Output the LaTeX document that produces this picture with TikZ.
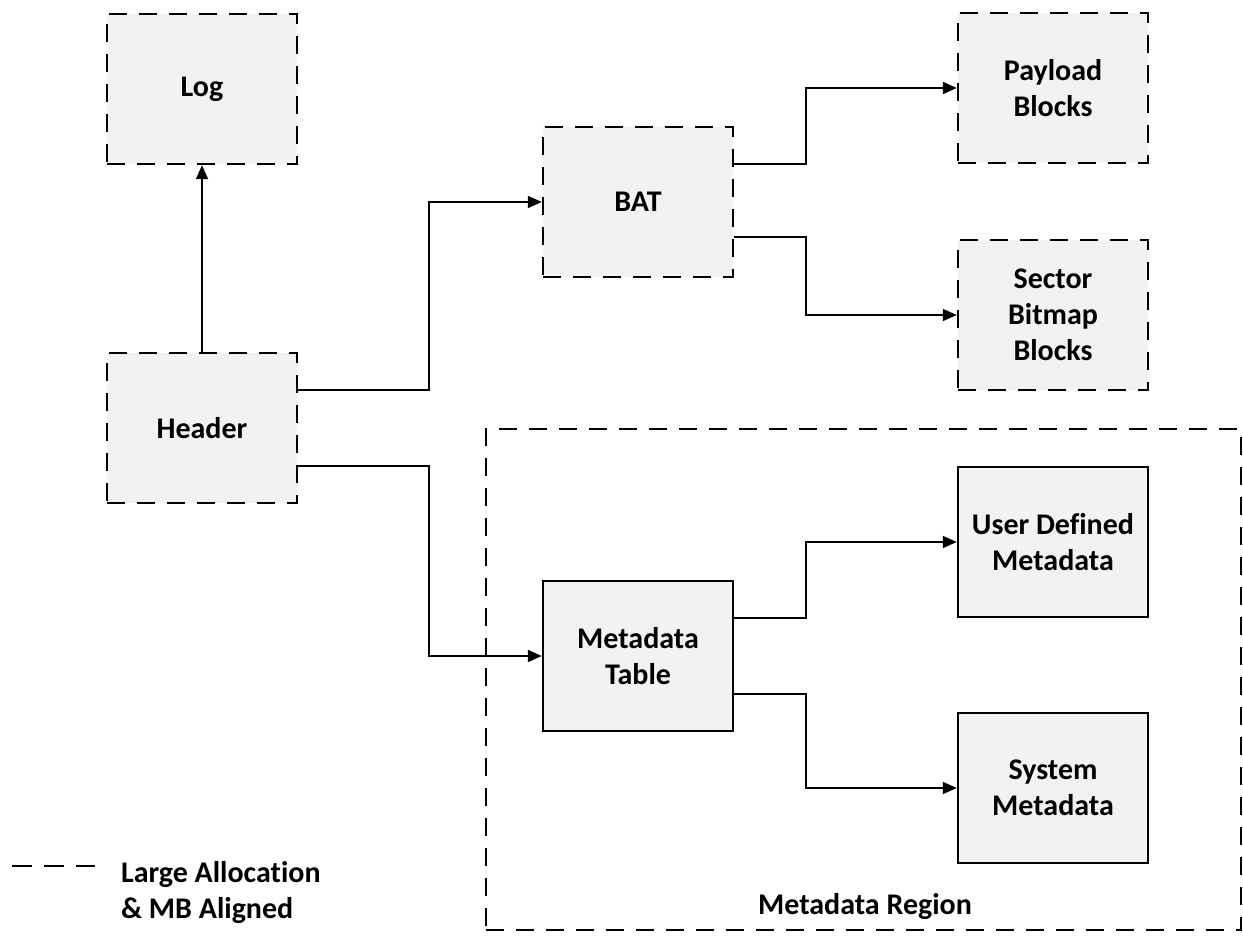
\documentclass[tikz,border=0pt]{standalone}
\usepackage{fontspec}
\setmainfont[Ligatures=NoCommon]{Carlito}
\usetikzlibrary{arrows.meta,calc}
\begin{document}
\begin{tikzpicture}[x=0.5pt,y=-0.5pt,
  font=\fontsize{15}{18}\selectfont\bfseries,
  box/.style={draw=black,fill=boxgray,line width=1.2pt,minimum width=95pt,minimum height=75pt,align=center,inner sep=2pt},
  dbox/.style={box,dash pattern=on 9pt off 6pt},
  region/.style={draw=black,line width=1.2pt,dash pattern=on 9pt off 6pt,minimum width=377.5pt,minimum height=250.5pt,inner sep=0pt},
  arr/.style={draw=black,line width=0.9pt,-{Triangle[length=7pt,width=6pt]}},
]
\definecolor{boxgray}{HTML}{F2F2F2}
\useasboundingbox (0,0) rectangle (1243,937);
\node[region] (mr) at (863.5,679.5) {};
\node[anchor=center] (mrl) at (865,907) {Metadata Region};
\node[dbox] (log) at (202,89) {Log};
\node[dbox] (hdr) at (202,428) {Header};
\node[dbox] (bat) at (638,202) {BAT};
\node[dbox] (pay) at (1053,88) {Payload\\Blocks};
\node[dbox] (sec) at (1053,315) {Sector\\Bitmap\\Blocks};
\node[box] (udm) at (1053,542) {User Defined\\Metadata};
\node[box] (mt) at (638,656) {Metadata\\Table};
\node[box] (sm) at (1053,788) {System\\Metadata};
\coordinate (lg1) at (12,866);
\coordinate (lg2) at (95,866);
\draw[line width=1.2pt,dash pattern=on 10pt off 6pt] (lg1) -- (lg2);
\node[anchor=west,align=left] (lgt) at (114,893) {Large Allocation\\\& MB Aligned};
\draw[arr] (hdr.north) -- (log.south);
\draw[arr] ($(hdr.north east)!0.25!(hdr.south east)$) -- ++(131,0) |- (bat.west);
\draw[arr] ($(hdr.north east)!0.75!(hdr.south east)$) -- ++(131,0) |- (mt.west);
\draw[arr] ($(bat.north east)!0.25!(bat.south east)$) -- ++(72,0) |- (pay.west);
\draw[arr] ($(bat.north east)!0.73!(bat.south east)$) -- ++(72,0) |- (sec.west);
\draw[arr] ($(mt.north east)!0.25!(mt.south east)$) -- ++(72,0) |- (udm.west);
\draw[arr] ($(mt.north east)!0.75!(mt.south east)$) -- ++(72,0) |- (sm.west);
\end{tikzpicture}
\end{document}
